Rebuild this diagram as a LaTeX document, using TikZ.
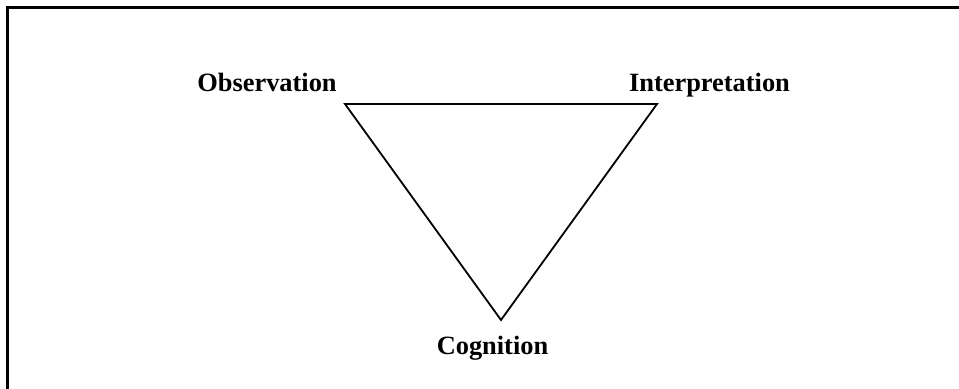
\documentclass[tikz,border=0pt]{standalone}
\usepackage{fontspec}
\setmainfont{Liberation Serif}
\usetikzlibrary{positioning}

\begin{document}
\begin{tikzpicture}[x=0.5pt,y=-0.5pt,font=\fontsize{13.2}{15}\selectfont\bfseries]
\tikzset{
 frameline/.style={line width=1.2pt,black},
 triline/.style={line width=0.9pt,black,line join=miter},
 corner/.style={anchor=base,inner sep=0pt}
}
\useasboundingbox (0,0) rectangle (959,389);
% open frame: top and left side only
\draw[frameline] (7.5,389) -- (7.5,7.5) -- (959,7.5);
% triangle corners
\coordinate (obs) at (345,104);
\coordinate (int) at (657,104);
\coordinate (cog) at (501,320);
\draw[triline] (obs) -- (int) -- (cog) -- cycle;
% labels
\node[corner] (obslabel) at (267,92) {Observation};
\node[corner] (intlabel) at (709.5,92) {Interpretation};
\node[corner] (coglabel) at (492.5,355) {Cognition};
\end{tikzpicture}
\end{document}
